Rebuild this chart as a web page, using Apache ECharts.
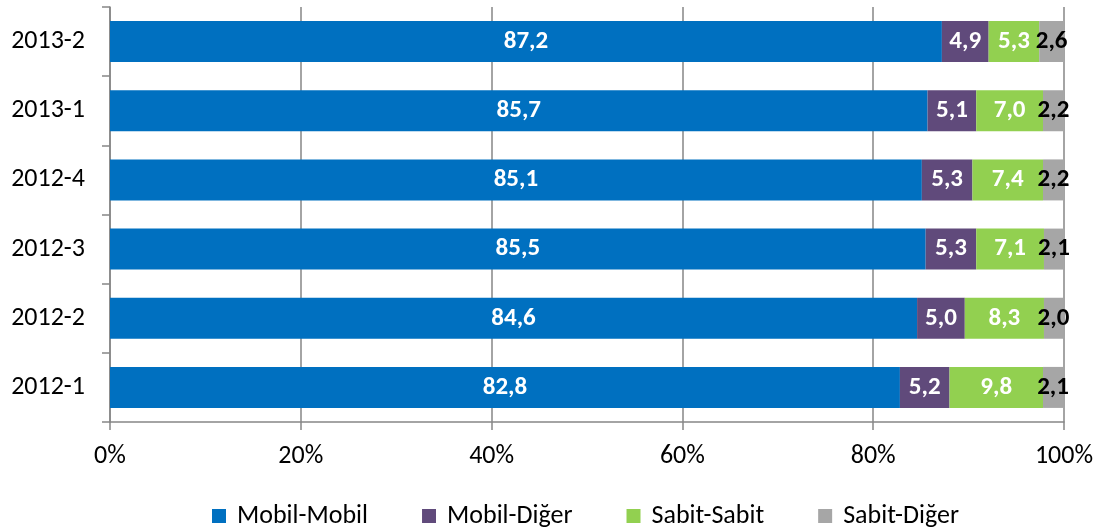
<!DOCTYPE html>
<html>
<head>
<meta charset="utf-8">
<script src="https://cdn.jsdelivr.net/npm/echarts@6/dist/echarts.min.js"></script>
<style>html,body{margin:0;padding:0;background:#fff}#c{width:1099px;height:528px}</style>
</head>
<body>
<div id="c"></div>
<script>
const categories = ['2012-1','2012-2','2012-3','2012-4','2013-1','2013-2'];
const seriesNames = ['Mobil-Mobil','Mobil-Diğer','Sabit-Sabit','Sabit-Diğer'];
const mobilMobil = [82.8, 84.6, 85.5, 85.1, 85.7, 87.2];
const mobilDiger = [5.2, 5.0, 5.3, 5.3, 5.1, 4.9];
const sabitSabit = [9.8, 8.3, 7.1, 7.4, 7.0, 5.3];
const sabitDiger = [2.1, 2.0, 2.1, 2.2, 2.2, 2.6];
const xTicks = [0, 20, 40, 60, 80, 100];

const colors = ['#0070C0', '#604A7B', '#92D050', '#A6A6A6'];
const labelColors = ['#ffffff', '#ffffff', '#ffffff', '#000000'];
const FONT = "Carlito, Calibri, 'Open Sans', sans-serif";
const data = [mobilMobil, mobilDiger, sabitSabit, sabitDiger];

const chart = echarts.init(document.getElementById('c'), null, {renderer: 'canvas'});
chart.setOption({
  animation: false,
  color: colors,
  textStyle: {fontFamily: FONT},
  grid: {left: 110, right: 35, top: 7, bottom: 106, containLabel: false},
  legend: {
    data: seriesNames,
    top: 498,
    left: 207,
    itemWidth: 14, itemHeight: 14, itemGap: 54,
    icon: 'rect',
    textStyle: {fontSize: 26, color: '#000', fontFamily: FONT, padding: [0, 0, 0, 6]}
  },
  xAxis: {
    type: 'value', min: xTicks[0], max: xTicks[xTicks.length-1], interval: 20,
    axisLine: {show: true, lineStyle: {color: '#868686', width: 1.5}},
    axisTick: {show: true, length: 8, lineStyle: {color: '#868686', width: 1.5}},
    splitLine: {show: true, lineStyle: {color: '#868686', width: 1.5}},
    axisLabel: {formatter: v => v + '%', fontSize: 26, color: '#000', margin: 21, fontFamily: FONT}
  },
  yAxis: {
    type: 'category', data: categories,
    axisLine: {show: true, lineStyle: {color: '#868686', width: 1.5}},
    axisTick: {show: true, length: 8, lineStyle: {color: '#868686', width: 1.5}},
    axisLabel: {fontSize: 26, color: '#000', margin: 25, fontFamily: FONT}
  },
  series: seriesNames.map((n, i) => ({
    name: n, type: 'bar', stack: 'total', barWidth: 41,
    data: data[i],
    itemStyle: {color: colors[i]},
    label: {
      show: true, position: 'inside',
      formatter: p => p.value.toFixed(1).replace('.', ','),
      color: labelColors[i], fontSize: 25, fontWeight: 'bold', fontFamily: FONT
    }
  }))
});
</script>
</body>
</html>
